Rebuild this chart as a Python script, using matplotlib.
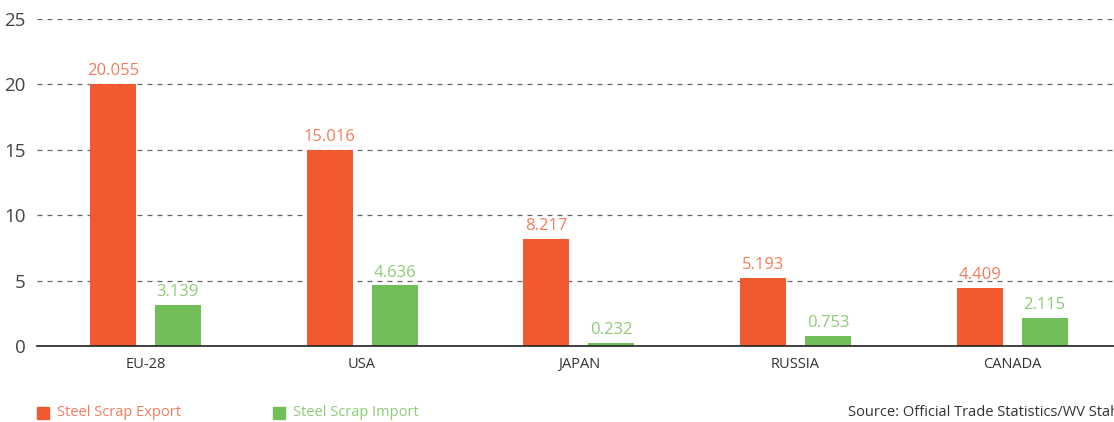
import matplotlib.pyplot as plt
import numpy as np

regions = ['EU-28', 'USA', 'JAPAN', 'RUSSIA', 'CANADA']
exports = [20.055, 15.016, 8.217, 5.193, 4.409]
imports = [3.139, 4.636, 0.232, 0.753, 2.115]
yticks = [0, 5, 10, 15, 20, 25]

exp_col = '#F15A31'
imp_col = '#72BF5A'
exp_txt = '#F47C5C'
imp_txt = '#8DCB78'

plt.rcParams['font.family'] = ['Open Sans', 'DejaVu Sans']

fig = plt.figure(figsize=(11.14, 4.22), dpi=100)
ax = fig.add_axes([37 / 1114, 76 / 422, 1 - 37 / 1114, 327 / 422])

x = np.arange(len(regions))
w = 0.212
off = 0.15
b1 = ax.bar(x - off, exports, w, color=exp_col, zorder=3)
b2 = ax.bar(x + off, imports, w, color=imp_col, zorder=3)

for rect, v in zip(b1, exports):
    ax.annotate(f'{v:.3f}', (rect.get_x() + rect.get_width() / 2, v),
                xytext=(0, 3.5), textcoords='offset points', ha='center', va='bottom',
                color=exp_txt, fontsize=12)
for rect, v in zip(b2, imports):
    ax.annotate(f'{v:.3f}', (rect.get_x() + rect.get_width() / 2, v),
                xytext=(0, 3.5), textcoords='offset points', ha='center', va='bottom',
                color=imp_txt, fontsize=12)

ax.set_xlim(-0.5, 4.47)
ax.set_ylim(0, 25)
ax.set_yticks(yticks)
ax.set_xticks(x)
ax.set_xticklabels(regions, fontsize=10.5, color='#333333')
ax.tick_params(axis='y', length=0, labelsize=13.5, labelcolor='#444444', pad=8)
ax.tick_params(axis='x', length=0, pad=8)
ax.grid(axis='y', linestyle=(0, (4, 4)), color='#666666', linewidth=0.9, zorder=0)
for s in ['top', 'right', 'left']:
    ax.spines[s].set_visible(False)
ax.spines['bottom'].set_color('#222222')
ax.spines['bottom'].set_linewidth(1.2)
ax.spines['bottom'].set_zorder(4)

# legend row
fig.patches.append(plt.Rectangle((37 / 1114, 3 / 422), 12 / 1114, 12 / 422,
                                 transform=fig.transFigure, color=exp_col))
fig.text(57 / 1114, 9 / 422, 'Steel Scrap Export', color=exp_txt, fontsize=10.5,
         va='center')
fig.patches.append(plt.Rectangle((273 / 1114, 3 / 422), 12 / 1114, 12 / 422,
                                 transform=fig.transFigure, color=imp_col))
fig.text(293 / 1114, 9 / 422, 'Steel Scrap Import', color=imp_txt, fontsize=10.5,
         va='center')
fig.text(848 / 1114, 9 / 422, 'Source: Official Trade Statistics/WV Stahl', color='#333333',
         fontsize=10.5, va='center')

fig.savefig('out.png', dpi=100)
